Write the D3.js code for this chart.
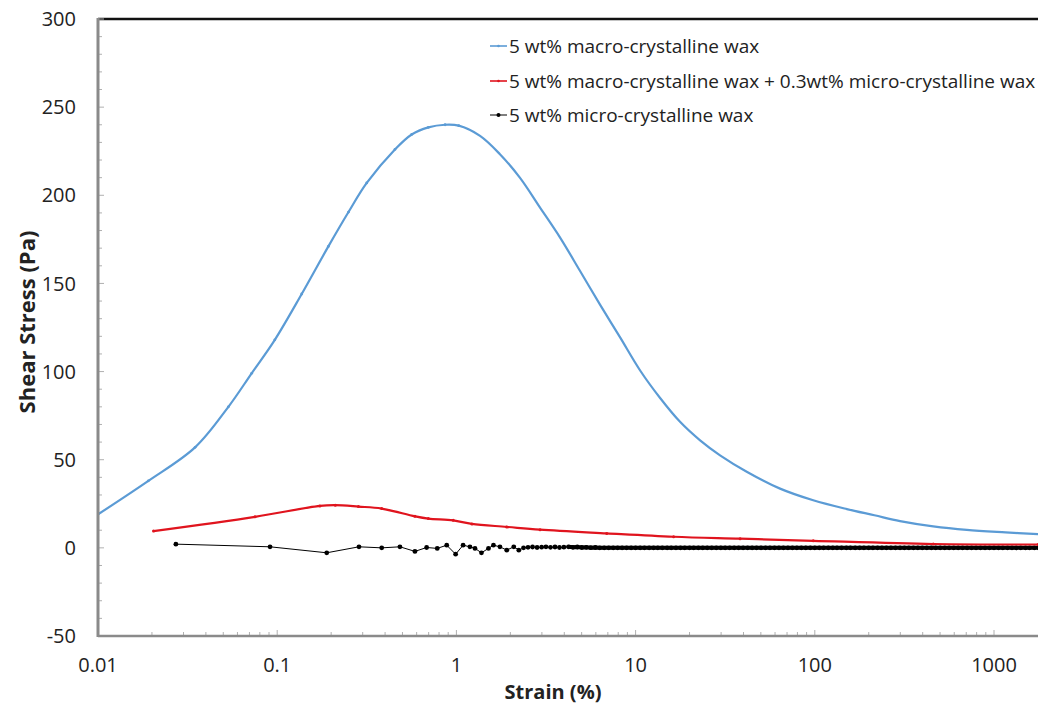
<!DOCTYPE html>
<html><head><meta charset="utf-8">
<script src="https://cdn.jsdelivr.net/npm/d3@7"></script>
<style>body{margin:0;background:#fff} svg{display:block}</style>
</head><body><svg id="c" width="1038" height="711"></svg>
<script>
// ---- data ----
const seriesNames = ["5 wt% macro-crystalline wax",
  "5 wt% macro-crystalline wax + 0.3wt% micro-crystalline wax",
  "5 wt% micro-crystalline wax"];
const seriesColors = ["#5b9bd5", "#e0141e", "#000000"];

const macroStrain = [0.01,0.0191,0.0348,0.0534,0.072,0.097,0.137,0.193,0.25,0.316,0.454,0.563,0.697,0.865,1.03,1.355,1.75,2.26,2.93,3.79,4.89,6.33,8.18,10.6,13.7,17.7,22.9,29.6,41.7,64,98,151,215,299,458,705,1160,1760];
const macroStress = [19,38,57,80,99,118,144,171,190.5,207,226,234.5,238.5,240,239.5,233.7,223.3,210,193,176,157.2,138,119.5,100.6,85,71.5,61,52.5,43.2,33.6,27,22,18.5,15.2,12.2,10.2,8.8,7.8];

const mixStrain = [0.0204,0.0752,0.173,0.211,0.284,0.383,0.587,0.697,0.96,1.22,1.91,2.93,6.9,16.3,38.3,98,458,1760];
const mixStress = [9.5,17.6,23.8,24.2,23.4,22.3,17.9,16.6,15.6,13.6,11.9,10.3,8.2,6.3,5.2,4,2.2,1.9];

const microStrain = [0.0272,0.0912,0.189,0.286,0.383,0.484,0.587,0.682,0.782,0.883,0.99,1.09,1.19,1.27,1.38,1.51,1.61,1.75,1.91,2.09,2.23,2.37,
  2.51,2.66,2.82,2.99,3.16,3.35,3.55,3.76,3.98,4.22,4.47,4.73,5.01,5.31,5.62,5.96,6.31,6.68,7.08,7.5,7.94,8.41,8.91,9.44,10,
  10.6,11.2,11.9,12.6,13.3,14.1,15,15.8,16.8,17.8,18.8,20,21.1,22.4,23.7,25.1,26.6,28.2,29.9,31.6,33.5,35.5,37.6,39.8,42.2,44.7,47.3,50.1,53.1,56.2,59.6,63.1,66.8,70.8,75,79.4,84.1,89.1,94.4,100,
  106,112,119,126,133,141,150,158,168,178,188,200,211,224,237,251,266,282,299,316,335,355,376,398,422,447,473,501,531,562,596,631,668,708,750,794,841,891,944,1000,1060,1120,1190,1260,1330,1410,1500,1580,1680,1780];
const microStress = [2.1,0.6,-2.8,0.6,0,0.6,-2,0.2,-0.3,1.5,-3.6,1.5,0.6,-0.3,-2.8,-0.3,1.5,0.6,-1.3,0.6,-1.3,0,
  0.3,0.5,0.2,0.4,0.6,0.3,0.5,0.2,0.4,0.6,0.3,0.5,0.2,0.3,0.1,0.2,0,0,0,0,0,0,0,0,0,
  0,0,0,0,0,0,0,0,0,0,0,0,0,0,0,0,0,0,0,0,0,0,0,0,0,0,0,0,0,0,0,0,0,0,0,0,0,0,0,0,
  0,0,0,0,0,0,0,0,0,0,0,0,0,0,0,0,0,0,0,0,0,0,0,0,0,0,0,0,0,0,0,0,0,0,0,0,0,0,0,0,0,0,0,0,0,0,0,0,0,0];

const xTickValues = [0.01,0.1,1,10,100,1000];
const xTickLabels = ["0.01","0.1","1","10","100","1000"];
const yTickValues = [-50,0,50,100,150,200,250,300];

// ---- layout ----
const svg = d3.select("#c");
const pLeft = 98, pTop = 19, pBottom = 636, pRight = 1038;
const x = d3.scaleLog().domain([0.01, 1000]).range([pLeft, 994]);
const y = d3.scaleLinear().domain([-50, 300]).range([pBottom, pTop]);
const font = "'Open Sans', 'Liberation Sans', sans-serif";

svg.append("defs").append("clipPath").attr("id","clip")
  .append("rect").attr("x", pLeft).attr("y", pTop-2).attr("width", pRight-pLeft).attr("height", pBottom-pTop+4);

// top border
svg.append("line").attr("x1", pLeft).attr("x2", pRight).attr("y1", pTop).attr("y2", pTop)
  .attr("stroke", "#111").attr("stroke-width", 2.5);

// minor x ticks
const minorX = [];
for (let e = -2; e <= 3; e++) for (let m = 1; m <= 9; m++) {
  const v = m * Math.pow(10, e);
  if (x(v) <= pRight) minorX.push(v);
}
svg.append("g").selectAll("line").data(minorX).join("line")
  .attr("x1", d => x(d)).attr("x2", d => x(d))
  .attr("y1", pBottom).attr("y2", d => pBottom - (Math.abs(Math.log10(d) - Math.round(Math.log10(d))) < 1e-6 ? 6 : 4))
  .attr("stroke", "#b0b0b0").attr("stroke-width", 1);

// minor y ticks
const minorY = d3.range(-50, 301, 10);
svg.append("g").selectAll("line").data(minorY).join("line")
  .attr("x1", pLeft).attr("x2", d => pLeft + (d % 50 === 0 ? 6 : 4))
  .attr("y1", d => y(d)).attr("y2", d => y(d))
  .attr("stroke", "#b0b0b0").attr("stroke-width", 1);

// data
const g = svg.append("g").attr("clip-path", "url(#clip)");
function toPts(xs, ys) { return xs.map((v, i) => [v, ys[i]]); }
const lineSmooth = d3.line().x(d => x(d[0])).y(d => y(d[1])).curve(d3.curveCatmullRom.alpha(0.5));
const lineLin = d3.line().x(d => x(d[0])).y(d => y(d[1]));

const macro = toPts(macroStrain, macroStress);
const mix = toPts(mixStrain, mixStress);
const micro = toPts(microStrain, microStress);

g.append("path").datum(micro).attr("d", lineLin).attr("fill","none").attr("stroke", seriesColors[2]).attr("stroke-width", 1);
// dense measurement points overlap into a solid band
g.append("path").datum(micro.filter(d => d[0] >= 4.2)).attr("d", lineLin).attr("fill","none")
  .attr("stroke", seriesColors[2]).attr("stroke-width", 4);
g.append("g").selectAll("circle").data(micro).join("circle")
  .attr("cx", d => x(d[0])).attr("cy", d => y(d[1])).attr("r", 2.4).attr("fill", seriesColors[2]);

g.append("path").datum(mix).attr("d", lineSmooth).attr("fill","none").attr("stroke", seriesColors[1]).attr("stroke-width", 2.2);
g.append("g").selectAll("circle").data(mix).join("circle")
  .attr("cx", d => x(d[0])).attr("cy", d => y(d[1])).attr("r", 1.5).attr("fill", seriesColors[1]);

g.append("path").datum(macro).attr("d", lineSmooth).attr("fill","none").attr("stroke", seriesColors[0]).attr("stroke-width", 2.2);
g.append("g").selectAll("circle").data(macro.slice(0, 15)).join("circle")
  .attr("cx", d => x(d[0])).attr("cy", d => y(d[1])).attr("r", 1.4).attr("fill", seriesColors[0]);

// axes lines
svg.append("line").attr("x1", pLeft).attr("x2", pRight).attr("y1", pBottom).attr("y2", pBottom)
  .attr("stroke", "#8a8a8a").attr("stroke-width", 2.5);
svg.append("line").attr("x1", pLeft).attr("x2", pLeft).attr("y1", pTop - 1).attr("y2", pBottom + 1)
  .attr("stroke", "#8a8a8a").attr("stroke-width", 3);

// tick labels
svg.append("g").selectAll("text").data(yTickValues).join("text")
  .attr("x", 76).attr("y", d => y(d)).attr("dy", "0.36em").attr("text-anchor", "end")
  .attr("font-family", font).attr("font-size", 20).attr("fill", "#222").text(d => d);
svg.append("g").selectAll("text").data(xTickValues).join("text")
  .attr("x", d => x(d)).attr("y", 665).attr("dy", "0.36em").attr("text-anchor", "middle")
  .attr("font-family", font).attr("font-size", 20).attr("fill", "#222").text((d, i) => xTickLabels[i]);

// axis titles
svg.append("text").attr("x", 553).attr("y", 692).attr("dy", "0.36em").attr("text-anchor", "middle")
  .attr("font-family", font).attr("font-size", 20).attr("font-weight", "bold").attr("fill", "#222").text("Strain (%)");
svg.append("text").attr("transform", "translate(27,322) rotate(-90)").attr("dy", "0.36em").attr("text-anchor", "middle")
  .attr("font-family", font).attr("font-size", 22).attr("font-weight", "bold").attr("fill", "#222").text("Shear Stress (Pa)");

// legend
const legRows = [46, 81, 115];
const leg = svg.append("g");
seriesNames.forEach((name, i) => {
  leg.append("line").attr("x1", 490).attr("x2", 507).attr("y1", legRows[i]).attr("y2", legRows[i])
    .attr("stroke", seriesColors[i]).attr("stroke-width", i === 2 ? 1 : 1.6);
  leg.append("circle").attr("cx", 498.5).attr("cy", legRows[i]).attr("r", i === 2 ? 2 : 1.3).attr("fill", seriesColors[i]);
  leg.append("text").attr("x", 509).attr("y", legRows[i]).attr("dy", "0.36em")
    .attr("font-family", font).attr("font-size", 19).attr("fill", "#222").text(name);
});
</script>
</body></html>
